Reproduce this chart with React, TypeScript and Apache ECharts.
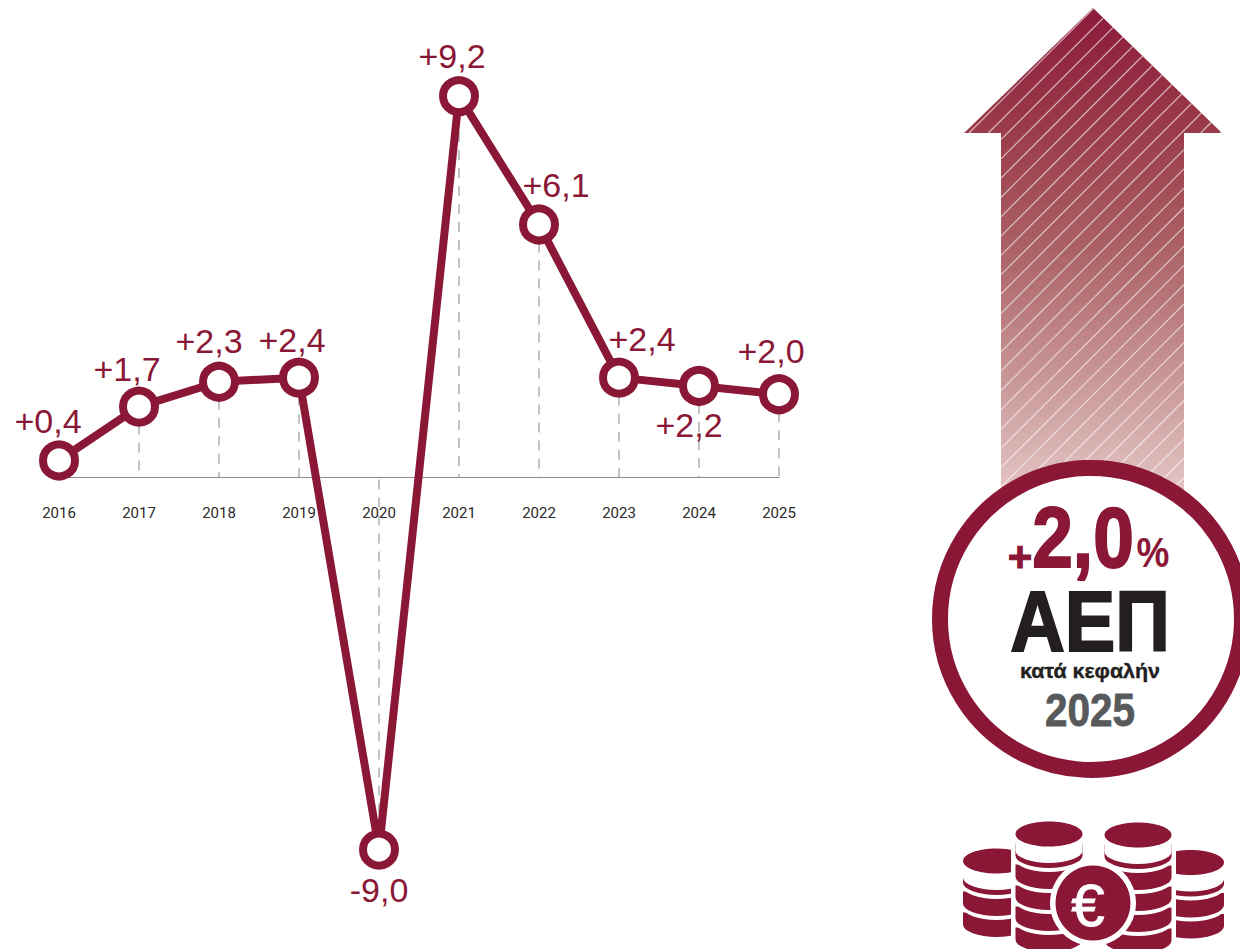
import React, { useEffect, useRef } from "react";
import * as echarts from "echarts";

const years = ["2016", "2017", "2018", "2019", "2020", "2021", "2022", "2023", "2024", "2025"];
const growth = [0.4, 1.7, 2.3, 2.4, -9.0, 9.2, 6.1, 2.4, 2.2, 2.0];
const growthLabels = ["+0,4", "+1,7", "+2,3", "+2,4", "-9,0", "+9,2", "+6,1", "+2,4", "+2,2", "+2,0"];
const labelOffsets = [[-11, -39], [-12, -38], [-10, -41], [-7, -38], [0, 40], [-7, -40], [17, -39], [23, -39], [-10, 39], [-8, -43]];

const MAROON = "#8b1737";
const VALUE_FONT = "'Liberation Sans', Arial, sans-serif";
const BOLD = "Liberation Sans, Arial, sans-serif";

echarts.graphic.registerShape("coinBody", echarts.graphic.extendPath("M -33.5 0 V 12 A 33.5 12.5 0 0 0 33.5 12 V 0 Z", {}));

function hatchLines() {
  const out: any[] = [];
  const push = (c: number, y1: number, y2: number) =>
    out.push({ type: "line", shape: { x1: c - y1, y1, x2: c - y2, y2 }, style: { stroke: "rgba(255,255,255,0.62)", lineWidth: 1.2 } });
  for (let c = 1102; c < 1720; c += 19.3) {
    const top = (c - 1084.74) / 2.032;
    if (top < 133 && c - 133 >= 964) push(c, Math.max(top, 8), 133);
    const a = Math.max(133, c - 1184);
    const b = Math.min(500, c - 1001);
    if (a < b) push(c, a, b);
  }
  return out;
}

function stack(cx: number, cy: number, levels: number) {
  const els: any[] = [];
  for (let k = levels - 1; k >= 0; k--) {
    const y = cy + 9.5 + 21 * k;
    els.push({ type: "coinBody", x: cx, y: y + 4, style: { fill: "#fff" } });
    els.push({ type: "coinBody", x: cx, y, style: { fill: MAROON } });
  }
  els.push({ type: "coinBody", x: cx, y: cy + 4.5, style: { fill: "#fff" } });
  els.push({ type: "ellipse", shape: { cx, cy, rx: 33.5, ry: 12.5 }, style: { fill: MAROON } });
  return els;
}

function label(text: string, x: number, y: number, font: string, fill: string, scaleX = 1, heavy = 0) {
  return {
    type: "text",
    x,
    y,
    scaleX,
    style: { text, font, fill, textAlign: "center", textVerticalAlign: "middle", stroke: heavy ? fill : undefined, lineWidth: heavy },
  };
}

function decorations() {
  return [
    {
      type: "polygon",
      shape: { points: [[1093, 8], [1222, 133], [1184, 133], [1184, 500], [1001, 500], [1001, 133], [964, 133]] },
      style: {
        fill: new echarts.graphic.LinearGradient(0, 0, 0, 1, [
          { offset: 0, color: "#8b1a3a" },
          { offset: 0.26, color: "#9b3d4b" },
          { offset: 0.48, color: "#aa6064" },
          { offset: 1, color: "#e5c8c6" },
        ]),
      },
    },
    ...hatchLines(),
    { type: "circle", shape: { cx: 1091, cy: 619, r: 151 }, style: { fill: "#fff", stroke: MAROON, lineWidth: 16 } },
    label("+", 1020, 556, `bold 42px ${BOLD}`, MAROON, 1, 1),
    label("2,0", 1083, 537, `bold 86px ${BOLD}`, MAROON, 0.85, 2),
    label("%", 1153, 552, `bold 42px ${BOLD}`, MAROON, 0.88),
    label("ΑΕΠ", 1090, 621, `bold 85px ${BOLD}`, "#231f20", 0.89, 2),
    label("κατά κεφαλήν", 1090, 671, `bold 21px ${BOLD}`, "#231f20", 1.02, 0.4),
    label("2025", 1090, 710, `bold 46px ${BOLD}`, "#58595b", 0.88, 0.8),
    ...stack(996.5, 861, 3),
    ...stack(1190.5, 862.5, 3),
    { type: "rect", shape: { x: 1011, y: 815, width: 75, height: 134 }, style: { fill: "#fff" } },
    { type: "rect", shape: { x: 1100, y: 815, width: 76, height: 134 }, style: { fill: "#fff" } },
    ...stack(1049, 834, 5),
    ...stack(1138, 835, 5),
    { type: "circle", shape: { cx: 1093, cy: 903, r: 43 }, style: { fill: "#fff" } },
    { type: "circle", shape: { cx: 1093, cy: 903, r: 37.5 }, style: { fill: MAROON } },
    label("€", 1088, 905, `60px ${BOLD}`, "#fff", 1, 1),
  ];
}

export default function App() {
  const ref = useRef<HTMLDivElement>(null);
  useEffect(() => {
    document.body.style.margin = "0";
    const chart = echarts.init(ref.current!, undefined, { renderer: "svg" });
    chart.setOption({
      animation: false,
      backgroundColor: "#fff",
      grid: { left: 59, top: 63, width: 720, height: 828 },
      xAxis: {
        type: "category",
        data: years,
        boundaryGap: false,
        axisLine: { onZero: true, lineStyle: { color: "#8c8c8c", width: 1 } },
        axisTick: { show: false },
        axisLabel: { color: "#2a2a2a", fontFamily: "Roboto, sans-serif", fontSize: 15, margin: -386, interval: 0 },
      },
      yAxis: { type: "value", min: -10, max: 10, show: false },
      series: [
        {
          type: "line",
          z: 5,
          data: growth.map((value, i) => ({
            value,
            label: { formatter: growthLabels[i], offset: labelOffsets[i] },
          })),
          lineStyle: { color: MAROON, width: 8 },
          symbol: "circle",
          symbolSize: 32,
          showAllSymbol: true,
          itemStyle: { color: "#fff", borderColor: MAROON, borderWidth: 8 },
          label: {
            show: true,
            position: "inside",
            color: MAROON,
            fontFamily: VALUE_FONT,
            fontWeight: 400,
            fontSize: 34,
          },
          markLine: {
            silent: true,
            symbol: "none",
            z: 1,
            label: { show: false },
            lineStyle: { color: "#b0b0b0", type: [10, 8], width: 1.5 },
            data: growth.slice(1).map((v, i) => [
              { coord: [i + 1, v] },
              { coord: [i + 1, 0] },
            ]),
          },
        },
      ],
      graphic: { elements: decorations() },
    });
    return () => chart.dispose();
  }, []);
  return <div ref={ref} style={{ position: "absolute", left: 0, top: 0, width: 1240, height: 949, overflow: "hidden" }} />;
}
